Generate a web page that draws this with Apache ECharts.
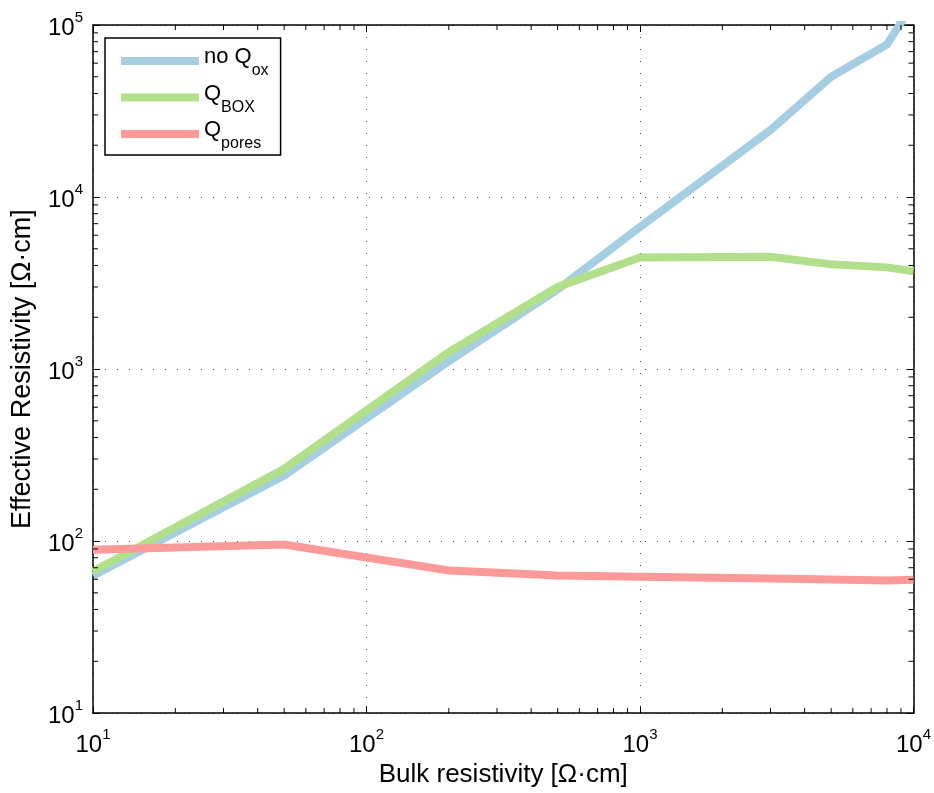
<!DOCTYPE html>
<html>
<head>
<meta charset="utf-8">
<script src="https://cdn.jsdelivr.net/npm/echarts@6/dist/echarts.min.js"></script>
<style>
html,body{margin:0;padding:0;background:#fff;}
#chart{width:934px;height:793px;}
</style>
</head>
<body>
<div id="chart"></div>
<script>
// Data
var bulkResistivity = [10, 50, 200, 500, 1000, 3000, 5000, 8000, 10000];
var noQox   = [63, 240, 1110, 2900, 6700, 24500, 50000, 77000, 135000];
var qBox    = [66.5, 263, 1255, 3000, 4450, 4500, 4060, 3900, 3700];
var qPores  = [89, 95.5, 67.5, 63, 62, 60.6, 59.8, 59, 59.5];
var seriesNames = ['{m|no Q}{s|ox}', '{m|Q}{s|BOX}', '{m|Q}{s|pores}'];
var seriesKeys = ['noQox', 'QBOX', 'Qpores'];
var xRange = [10, 10000];
var yRange = [10, 100000];

var FONT = "'Liberation Sans', Arial, Helvetica, sans-serif";
var colors = ['#a6cee3', '#b2df8a', '#fb9a99'];

function pair(xs, ys) { return xs.map(function (x, i) { return [x, ys[i]]; }); }

function supLabel(v) {
  var e = Math.round(Math.log10(v));
  return '{b|10}{s|' + e + '}';
}
var labelRich = {
  b: { fontSize: 24, fontFamily: FONT, color: '#000', lineHeight: 30, verticalAlign: 'bottom' },
  s: { fontSize: 15, fontFamily: FONT, color: '#000', lineHeight: 14, verticalAlign: 'top' }
};

// minor tick values (2..9 x 10^k) within a range
function minorValues(range) {
  var out = [];
  for (var k = Math.round(Math.log10(range[0])); k < Math.round(Math.log10(range[1])); k++) {
    for (var m = 2; m <= 9; m++) out.push(m * Math.pow(10, k));
  }
  return out;
}
var minorData = [];
minorValues(xRange).forEach(function (v) { minorData.push([v, yRange[0], 0]); });
minorValues(yRange).forEach(function (v) { minorData.push([xRange[0], v, 1]); });

var axisLineStyle = { color: '#000', width: 1.5 };
var gridLine = { show: true, lineStyle: { color: '#444', width: 1, type: [1, 11] } };

var chart = echarts.init(document.getElementById('chart'), null, { renderer: 'canvas' });
var names = {};
seriesKeys.forEach(function (k, i) { names[k] = seriesNames[i]; });

var option = {
  backgroundColor: '#fff',
  animation: false,
  grid: { left: 93, right: 19, top: 25, bottom: 78, containLabel: false },
  legend: {
    left: 105, top: 38,
    orient: 'vertical',
    data: seriesKeys.map(function (k) { return { name: k, icon: 'rect' }; }),
    formatter: function (n) { return names[n]; },
    itemWidth: 78, itemHeight: 8, itemGap: 0.5,
    padding: [5, 12, 3, 16],
    borderColor: '#000', borderWidth: 1.5,
    textStyle: {
      fontFamily: FONT, fontSize: 22, color: '#000',
      rich: {
        m: { fontFamily: FONT, fontSize: 22, color: '#000', lineHeight: 36, verticalAlign: 'top', padding: [3, 0, 0, 0] },
        s: { fontFamily: FONT, fontSize: 16, color: '#000', lineHeight: 14, verticalAlign: 'bottom' }
      }
    }
  },
  xAxis: [{
    type: 'log', logBase: 10, min: xRange[0], max: xRange[1],
    position: 'bottom',
    name: 'Bulk resistivity [\u03a9\u00b7cm]',
    nameLocation: 'middle', nameGap: 45,
    nameTextStyle: { fontFamily: FONT, fontSize: 26, color: '#000' },
    axisLine: { show: true, lineStyle: axisLineStyle },
    axisTick: { show: true, inside: true, length: 7, lineStyle: { color: '#000', width: 1 } },
    axisLabel: { margin: 14, formatter: supLabel, rich: labelRich },
    splitLine: gridLine,
    minorTick: { show: false }
  }, {
    type: 'log', logBase: 10, min: xRange[0], max: xRange[1],
    position: 'top',
    axisLine: { show: true, onZero: false, lineStyle: axisLineStyle },
    axisTick: { show: true, inside: true, length: 7, lineStyle: { color: '#000', width: 1 } },
    axisLabel: { show: false },
    splitLine: { show: false }
  }],
  yAxis: [{
    type: 'log', logBase: 10, min: yRange[0], max: yRange[1],
    position: 'left',
    name: 'Effective Resistivity [\u03a9\u00b7cm]',
    nameLocation: 'middle', nameGap: 57,
    nameTextStyle: { fontFamily: FONT, fontSize: 27, color: '#000' },
    axisLine: { show: true, lineStyle: axisLineStyle },
    axisTick: { show: true, inside: true, length: 7, lineStyle: { color: '#000', width: 1 } },
    axisLabel: { margin: 10, formatter: supLabel, rich: labelRich },
    splitLine: gridLine
  }, {
    type: 'log', logBase: 10, min: yRange[0], max: yRange[1],
    position: 'right',
    axisLine: { show: true, onZero: false, lineStyle: axisLineStyle },
    axisTick: { show: true, inside: true, length: 7, lineStyle: { color: '#000', width: 1 } },
    axisLabel: { show: false },
    splitLine: { show: false }
  }],
  series: [
    {
      name: 'noQox', type: 'line', data: pair(bulkResistivity, noQox),
      showSymbol: false, symbol: 'none', clip: true,
      lineStyle: { color: colors[0], width: 8, cap: 'butt', join: 'miter' },
      itemStyle: { color: colors[0] }, z: 3
    },
    {
      name: 'QBOX', type: 'line', data: pair(bulkResistivity, qBox),
      showSymbol: false, symbol: 'none', clip: true,
      lineStyle: { color: colors[1], width: 8, cap: 'butt', join: 'miter' },
      itemStyle: { color: colors[1] }, z: 4
    },
    {
      name: 'Qpores', type: 'line', data: pair(bulkResistivity, qPores),
      showSymbol: false, symbol: 'none', clip: true,
      lineStyle: { color: colors[2], width: 8, cap: 'butt', join: 'miter' },
      itemStyle: { color: colors[2] }, z: 5
    },
    {
      name: 'minorTicks', type: 'custom', clip: false, silent: true, z: 6,
      data: minorData,
      renderItem: function (params, api) {
        var kind = api.value(2);
        var L = 5;
        var st = { stroke: '#000', lineWidth: 1 };
        if (kind === 0) {
          var v = api.value(0);
          var b = api.coord([v, yRange[0]]);
          var t = api.coord([v, yRange[1]]);
          return { type: 'group', children: [
            { type: 'line', shape: { x1: b[0], y1: b[1], x2: b[0], y2: b[1] - L }, style: st },
            { type: 'line', shape: { x1: t[0], y1: t[1], x2: t[0], y2: t[1] + L }, style: st }
          ]};
        } else {
          var w = api.value(1);
          var l = api.coord([xRange[0], w]);
          var r = api.coord([xRange[1], w]);
          return { type: 'group', children: [
            { type: 'line', shape: { x1: l[0], y1: l[1], x2: l[0] + L, y2: l[1] }, style: st },
            { type: 'line', shape: { x1: r[0], y1: r[1], x2: r[0] - L, y2: r[1] }, style: st }
          ]};
        }
      }
    }
  ]
};
chart.setOption(option);
</script>
</body>
</html>
